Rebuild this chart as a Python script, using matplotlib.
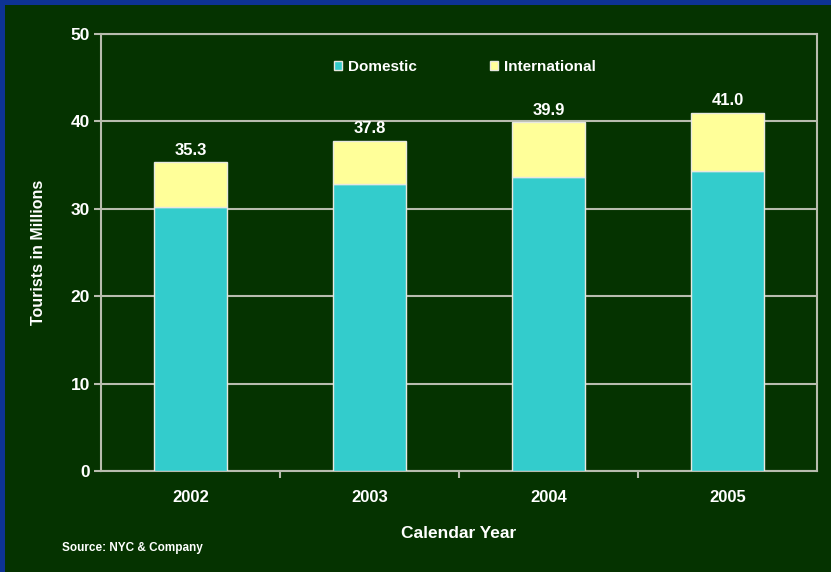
import numpy as np
import matplotlib.pyplot as plt
from matplotlib.patches import Rectangle

years = ['2002', '2003', '2004', '2005']
domestic = [30.2, 32.8, 33.6, 34.3]
totals = [35.3, 37.8, 39.9, 41.0]
international = [t - d for t, d in zip(totals, domestic)]
yticks = [0, 10, 20, 30, 40, 50]

bg = '#053300'
line_col = '#b8bcae'
plt.rcParams['font.family'] = ['Liberation Sans', 'DejaVu Sans']
plt.rcParams['font.weight'] = 'bold'

fig = plt.figure(figsize=(8.31, 5.72), dpi=100)
fig.patch.set_facecolor('#0d3393')
fig.patches.append(Rectangle((5 / 831, 0), 1, 1 - 5 / 572, transform=fig.transFigure,
                             facecolor=bg, edgecolor='none', zorder=-10))

ax = fig.add_axes([101 / 831, 101 / 572, 716 / 831, 437 / 572])
ax.set_facecolor(bg)

x = np.arange(len(years))
w = 0.41
ax.bar(x, domestic, w, color='#33cccc', edgecolor='#e8e8e0', linewidth=1, label='Domestic', zorder=3)
ax.bar(x, international, w, bottom=domestic, color='#ffff99', edgecolor='#e8e8e0', linewidth=1,
       label='International', zorder=3)

for xi, t in zip(x, totals):
    ax.text(xi, t + 0.5, f'{t:.1f}', ha='center', va='bottom', color='white', fontsize=12,
            fontweight='bold')

ax.set_xlim(-0.5, 3.5)
ax.set_ylim(0, 50)
ax.set_yticks(yticks)
ax.set_xticks(x)
ax.set_xticklabels(years)
ax.set_xticks([0.5, 1.5, 2.5], minor=True)
ax.tick_params(axis='x', which='major', length=0, pad=14, colors='white', labelsize=12)
ax.tick_params(axis='x', which='minor', length=5, width=1.5, color=line_col)
ax.tick_params(axis='y', length=5, width=1.5, color=line_col, labelcolor='white', labelsize=12.5, pad=3)
for lab in ax.get_xticklabels() + ax.get_yticklabels():
    lab.set_fontweight('bold')

ax.yaxis.grid(True, color=line_col, linewidth=1.5, zorder=1)
ax.set_axisbelow(True)
for s in ax.spines.values():
    s.set_color(line_col)
    s.set_linewidth(1.5)

ax.set_xlabel('Calendar Year', color='white', fontsize=12.5, fontweight='bold', labelpad=15)
ax.set_ylabel('Tourists in Millions', color='white', fontsize=11.5, fontweight='bold', labelpad=18)

leg = ax.legend(loc='center', bbox_to_anchor=(0.508, 0.925), ncol=2, frameon=False,
                columnspacing=4.8, handlelength=0.55, handleheight=0.55, handletextpad=0.35,
                prop={'size': 11, 'weight': 'bold'})
for t in leg.get_texts():
    t.set_color('white')

fig.text(62 / 831, 1 - 548 / 572, 'Source: NYC & Company', color='white', fontsize=8.5,
         fontweight='bold', va='center')

fig.savefig('out.png', dpi=100, facecolor=fig.get_facecolor())
